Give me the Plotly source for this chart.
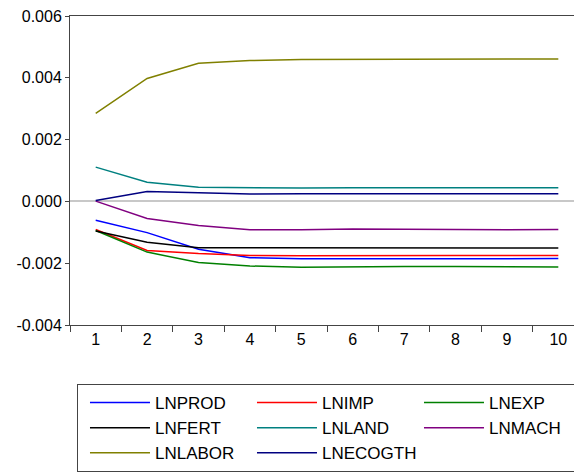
import plotly.graph_objects as go

periods = ["1", "2", "3", "4", "5", "6", "7", "8", "9", "10"]

lnprod   = [-0.00061, -0.00101, -0.00155, -0.00182, -0.00186, -0.00186, -0.00185, -0.00185, -0.00185, -0.00185]
lnimp    = [-0.00091, -0.00159, -0.00169, -0.00175, -0.00176, -0.00175, -0.00175, -0.00175, -0.00175, -0.00175]
lnexp    = [-0.00094, -0.00164, -0.00198, -0.00209, -0.00213, -0.00211, -0.00211, -0.00211, -0.00212, -0.00212]
lnfert   = [-0.00096, -0.00132, -0.00150, -0.00150, -0.00151, -0.00151, -0.00151, -0.00151, -0.00151, -0.00151]
lnland   = [0.00111, 0.00062, 0.00046, 0.00044, 0.00043, 0.00044, 0.00044, 0.00044, 0.00044, 0.00044]
lnmach   = [0.00001, -0.00055, -0.00078, -0.00092, -0.00092, -0.00089, -0.00090, -0.00092, -0.00092, -0.00091]
lnlabor  = [0.00285, 0.00398, 0.00447, 0.00456, 0.00459, 0.00460, 0.00461, 0.00461, 0.00461, 0.00461]
lnecogth = [0.00003, 0.00032, 0.00028, 0.00024, 0.00025, 0.00025, 0.00025, 0.00025, 0.00025, 0.00025]

y_ticks = [-0.004, -0.002, 0.0, 0.002, 0.004, 0.006]
y_tick_labels = ["-0.004", "-0.002", "0.000", "0.002", "0.004", "0.006"]

series = [
    ("LNPROD", lnprod, "#0000FF"),
    ("LNIMP", lnimp, "#FF0000"),
    ("LNEXP", lnexp, "#008000"),
    ("LNFERT", lnfert, "#000000"),
    ("LNLAND", lnland, "#008080"),
    ("LNMACH", lnmach, "#800080"),
    ("LNLABOR", lnlabor, "#808000"),
    ("LNECOGTH", lnecogth, "#000080"),
]

fig = go.Figure()
for name, vals, color in series:
    fig.add_trace(go.Scatter(x=periods, y=vals, name=name, mode="lines",
                             line=dict(color=color, width=1.5)))

axis_font = dict(family="Liberation Sans, Arial, sans-serif", size=16, color="#000000")

fig.update_layout(
    width=620, height=474,
    margin=dict(l=70, r=0, t=16, b=149, autoexpand=False),
    paper_bgcolor="white", plot_bgcolor="white",
    font=axis_font,
    xaxis=dict(type="category", range=[-0.5, 10.2], tickson="boundaries",
               ticks="outside", ticklen=6, tickcolor="#444", showline=True,
               linecolor="#444", linewidth=1, mirror=True, showgrid=False,
               tickfont=axis_font, zeroline=False, ticklabeloverflow="allow"),
    yaxis=dict(range=[-0.004, 0.006], tickvals=y_ticks, ticktext=y_tick_labels,
               ticks="outside", ticklen=4, tickcolor="#444", showline=True,
               linecolor="#444", linewidth=1, showgrid=False,
               zeroline=True, zerolinecolor="#C8C8C8", zerolinewidth=1.5,
               tickfont=axis_font, ticklabeloverflow="allow"),
    legend=dict(orientation="h", x=0.0127, xanchor="left", y=-0.191, yanchor="top",
                bordercolor="#444", borderwidth=1, bgcolor="white",
                font=dict(family="Liberation Sans, Arial, sans-serif", size=17, color="#000000"),
                itemwidth=60, entrywidth=85, indentation=7, traceorder="normal"),
    showlegend=True,
)

fig.write_html(
    "out.html",
    config={"displayModeBar": False},
    post_script="document.body.style.margin='0';"
                "document.body.style.overflow='hidden';"
                "document.documentElement.style.overflow='hidden';",
)
